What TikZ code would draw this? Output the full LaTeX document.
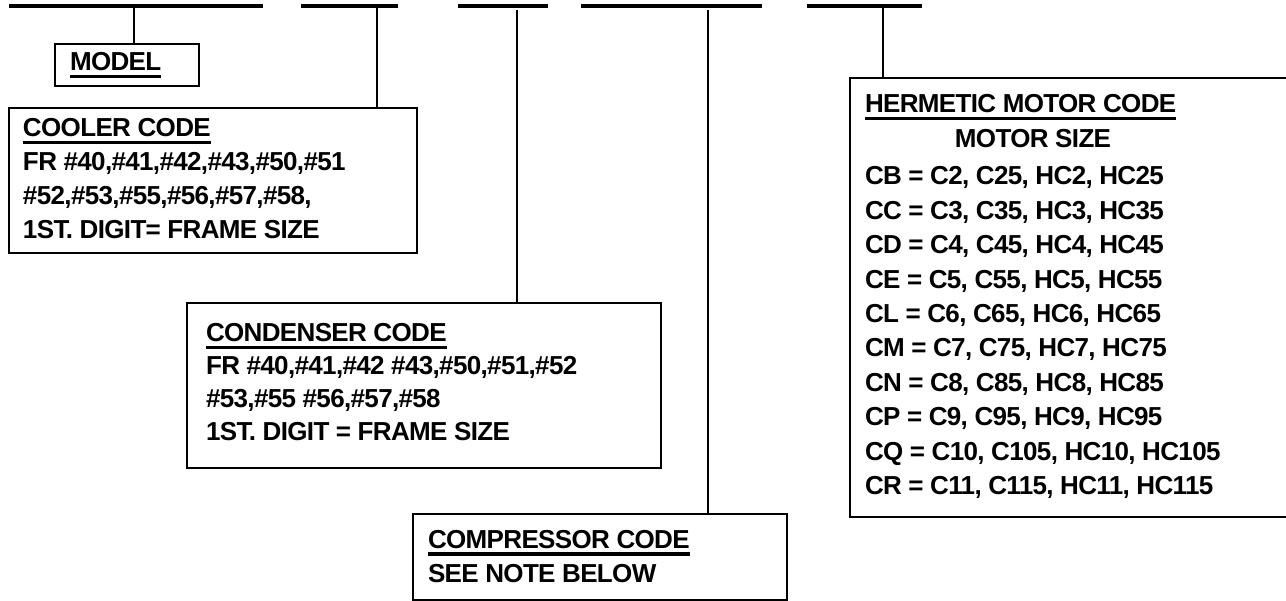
\documentclass[tikz,border=0pt]{standalone}
\usepackage{fontspec}
\setmainfont{Liberation Sans}[LetterSpace=-2.5]
\newcommand\ulbar[1]{\setbox0=\hbox{#1}\rlap{\rule[-7.5pt]{\wd0}{3.5pt}}\box0}
\begin{document}
\begin{tikzpicture}[x=1pt,y=-1pt,
  box/.style={draw, line width=2.6pt, rectangle, inner sep=0pt, outer sep=0pt, anchor=north west},
  topline/.style={line width=3.2pt},
  conn/.style={line width=2.6pt},
  txt/.style={anchor=base west, inner sep=0pt, outer sep=0pt, font=\bfseries\fontsize{26}{34}\selectfont}]
\useasboundingbox (0,0) rectangle (1286,601);
% top lines
\coordinate (a1) at (9,6);   \coordinate (a2) at (263,6);
\coordinate (b1) at (301,6); \coordinate (b2) at (398,6);
\coordinate (c1) at (458,6); \coordinate (c2) at (548,6);
\coordinate (d1) at (581,6); \coordinate (d2) at (762,6);
\coordinate (e1) at (807,6); \coordinate (e2) at (922,6);
\draw[topline] (a1) -- (a2);
\draw[topline] (b1) -- (b2);
\draw[topline] (c1) -- (c2);
\draw[topline] (d1) -- (d2);
\draw[topline] (e1) -- (e2);
% boxes
\node[box, minimum width=144pt, minimum height=42pt] (model) at (55,44) {};
\node[box, minimum width=408pt, minimum height=145pt] (cooler) at (9,108) {};
\node[box, minimum width=474pt, minimum height=165pt] (cond) at (187,303) {};
\node[box, minimum width=374pt, minimum height=86pt] (comp) at (413,514) {};
\node[box, minimum width=450pt, minimum height=439pt] (herm) at (850,78) {};
% connectors
\coordinate (tm) at (134,6);
\coordinate (tc) at (377,6);
\coordinate (tn) at (517,10);
\coordinate (tp) at (708,10);
\coordinate (th) at (883,6);
\draw[conn] (tm) -- (tm |- model.north);
\draw[conn] (tc) -- (tc |- cooler.north);
\draw[conn] (tn) -- (tn |- cond.north);
\draw[conn] (tp) -- (tp |- comp.north);
\draw[conn] (th) -- (th |- herm.north);
% texts
\node[txt] (modelt) at (70,71) {\ulbar{MODEL}};
\node[txt, font=\bfseries\fontsize{26}{33.7}\selectfont] (coolt) at (23,137) {\begin{tabular}[t]{@{}l@{}}\ulbar{COOLER CODE}\\
FR \#40,\#41,\#42,\#43,\#50,\#51\\
\#52,\#53,\#55,\#56,\#57,\#58,\\
1ST. DIGIT= FRAME SIZE\end{tabular}};
\node[txt, font=\bfseries\fontsize{26}{33}\selectfont] (condt) at (206,342) {\begin{tabular}[t]{@{}l@{}}\ulbar{CONDENSER CODE}\\
FR \#40,\#41,\#42 \#43,\#50,\#51,\#52\\
\#53,\#55 \#56,\#57,\#58\\
1ST. DIGIT = FRAME SIZE\end{tabular}};
\node[txt] (compt) at (428,548) {\begin{tabular}[t]{@{}l@{}}\ulbar{COMPRESSOR CODE}\\
SEE NOTE BELOW\end{tabular}};
\node[txt] (hermt) at (865,113) {\ulbar{HERMETIC MOTOR CODE}};
\node[txt, anchor=base] (msize) at (1033,148) {MOTOR SIZE};
\node[txt, font=\bfseries\fontsize{26}{34.4}\selectfont] (hlist) at (865,185) {\begin{tabular}[t]{@{}l@{}}CB = C2, C25, HC2, HC25\\
CC = C3, C35, HC3, HC35\\
CD = C4, C45, HC4, HC45\\
CE = C5, C55, HC5, HC55\\
CL = C6, C65, HC6, HC65\\
CM = C7, C75, HC7, HC75\\
CN = C8, C85, HC8, HC85\\
CP = C9, C95, HC9, HC95\\
CQ = C10, C105, HC10, HC105\\
CR = C11, C115, HC11, HC115\end{tabular}};
\end{tikzpicture}
\end{document}
